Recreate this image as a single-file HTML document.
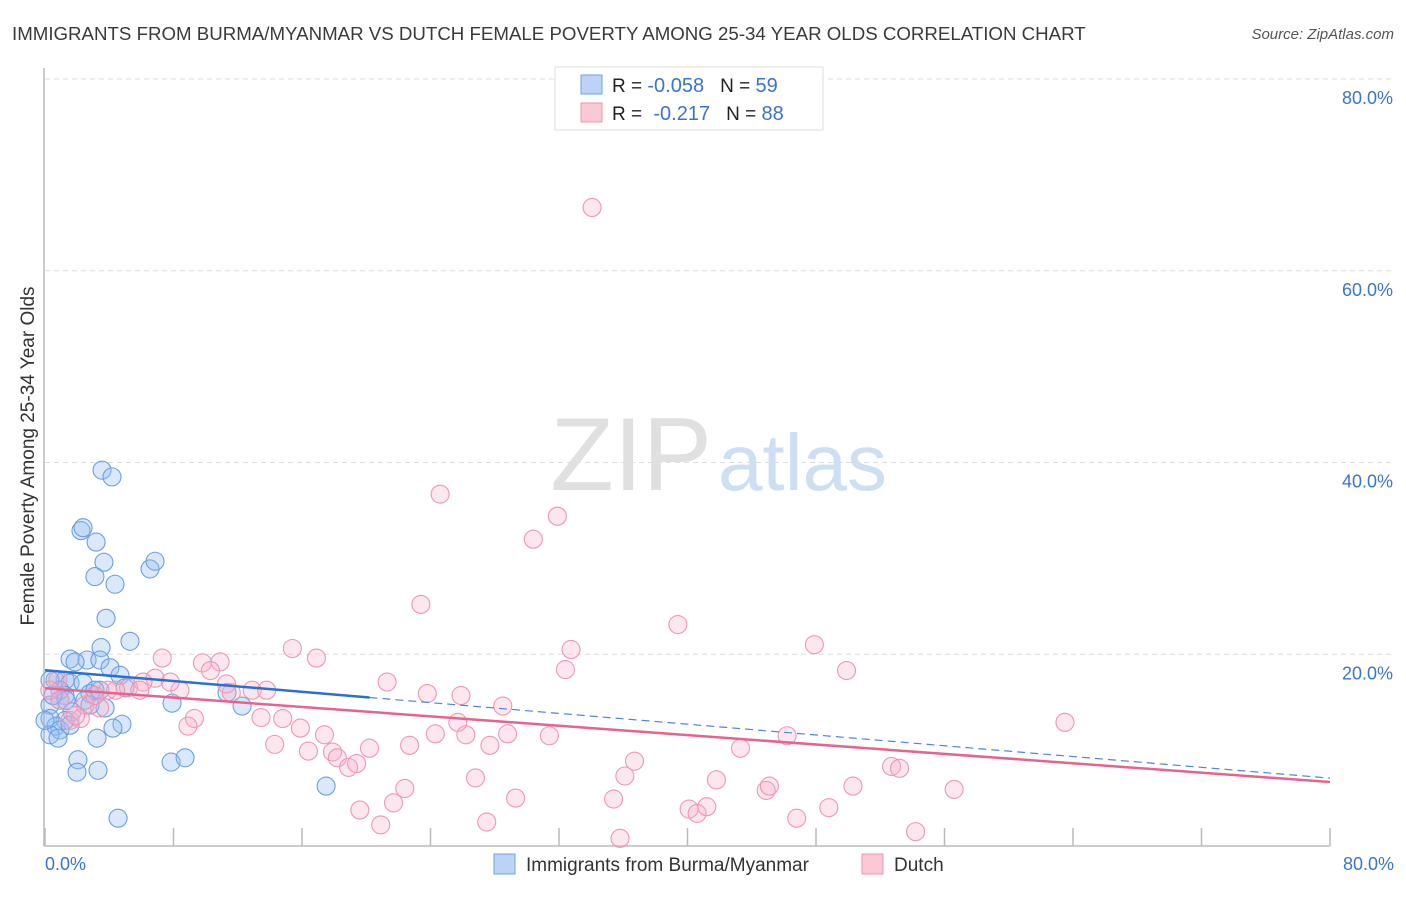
<!DOCTYPE html>
<html><head><meta charset="utf-8"><style>
body{margin:0;background:#fff;font-family:"Liberation Sans",sans-serif}
svg text{font-family:"Liberation Sans",sans-serif}
</style></head><body>
<svg id="chart" width="1406" height="892" viewBox="0 0 1406 892" xmlns="http://www.w3.org/2000/svg">
<text x="12" y="40" font-size="18.7" fill="#3a3a3a">IMMIGRANTS FROM BURMA/MYANMAR VS DUTCH FEMALE POVERTY AMONG 25-34 YEAR OLDS CORRELATION CHART</text>
<text x="1394" y="39" font-size="15" font-style="italic" fill="#555" text-anchor="end">Source: ZipAtlas.com</text>
<g id="grid"></g>
<g>
<text x="712" y="490" font-size="104" font-family="Liberation Serif" fill="#e0e0e0" text-anchor="end">ZIP</text>
<text x="718" y="490" font-size="80" fill="#cfdff3">atlas</text>
</g>
<line x1="44" y1="68" x2="44" y2="846" stroke="#bbb" stroke-width="1.5"/>
<line x1="44" y1="846" x2="1330" y2="846" stroke="#bbb" stroke-width="1.5"/>
<g id="xticks"></g>
<g id="yticklabels"></g>
<text x="45" y="870" font-size="18" fill="#3a74d0">0.0%</text>
<text x="1394" y="870" font-size="18" fill="#3a74d0" text-anchor="end">80.0%</text>
<text transform="translate(34,456) rotate(-90)" font-size="19" fill="#333" text-anchor="middle">Female Poverty Among 25-34 Year Olds</text>
<g id="pts-blue"></g>
<g id="pts-pink"></g>
<g id="trends"></g>
<g>
<rect x="555" y="67" width="268" height="63" fill="#fff" stroke="#ddd"/>
<rect x="581" y="75" width="21" height="19" fill="#bcd3f5" stroke="#6ea0e4"/>
<rect x="581" y="103" width="21" height="19" fill="#fbc8d6" stroke="#ee94b0"/>
<text x="612" y="92" font-size="19" fill="#222">R = <tspan fill="#3a74d0" font-size="20">-0.058</tspan><tspan dx="16">N = </tspan><tspan fill="#3a74d0" font-size="20">59</tspan></text>
<text x="612" y="120" font-size="19" fill="#222">R = <tspan dx="6" fill="#3a74d0" font-size="20">-0.217</tspan><tspan dx="16">N = </tspan><tspan fill="#3a74d0" font-size="20">88</tspan></text>
</g>
<g>
<rect x="494" y="854" width="21" height="20" fill="#bcd3f5" stroke="#6ea0e4"/>
<text x="526" y="871" font-size="19" fill="#333">Immigrants from Burma/Myanmar</text>
<rect x="862" y="854" width="21" height="20" fill="#fbc8d6" stroke="#ee94b0"/>
<text x="894" y="871" font-size="19" fill="#333">Dutch</text>
</g>
</svg>
<script>
const yTicks=[20,40,60,80];
const yTickLabels=["20.0%","40.0%","60.0%","80.0%"];
const xTickVals=[0,8,16,24,32,40,48,56,64,72,80];
const blueX=[3.55,4.17,2.24,2.37,3.18,3.11,3.67,4.36,6.54,6.85,3.8,5.29,3.49,1.56,2.62,3.42,1.87,4.05,0.62,1.25,1.56,2.37,0.93,2.8,4.67,4.98,0.31,1.25,1.68,3.74,1.25,0.31,0.68,0.93,1.56,4.79,4.23,3.24,2.05,1.99,3.3,7.85,8.72,7.91,11.33,12.27,17.5,4.55,0.31,0.81,1.31,2.49,2.8,3.42,3.11,0.93,0.31,0.5,0.0];
const blueY=[39.2,38.5,32.9,33.2,31.7,28.1,29.6,27.3,28.9,29.7,23.75,21.35,20.7,19.5,19.4,19.4,19.2,18.6,17.3,17.3,17.0,17.0,16.25,15.9,17.8,16.5,14.7,15.7,14.0,14.4,13.1,13.3,12.5,12.1,12.6,12.7,12.3,11.25,9.0,7.7,7.9,8.75,9.2,14.9,16.0,14.6,6.25,2.9,11.6,11.25,15.2,15.2,14.7,16.25,16.25,15.2,17.3,15.7,13.1];
const pinkX=[34.06,24.6,31.9,30.4,23.4,39.4,32.75,47.9,32.4,49.9,15.4,16.9,7.3,9.8,10.9,10.3,12.9,13.8,11.6,11.3,8.4,7.8,6.85,6.1,5.2,3.9,4.4,5.9,21.3,23.8,28.5,25.9,25.7,26.2,24.3,22.7,20.2,17.9,16.4,18.2,18.9,19.4,27.7,28.8,31.4,14.3,13.45,14.8,15.9,17.4,9.3,8.9,43.3,46.2,63.5,26.8,22.4,21.7,19.6,20.9,29.3,27.5,35.4,36.1,36.7,41.8,40.1,40.6,41.2,44.9,45.1,46.8,48.8,50.3,52.7,53.2,56.6,54.2,35.8,0.8,0.3,1.56,2.2,3.4,2.5,0.93,1.9,3.1];
const pinkY=[66.6,36.7,34.4,32.0,25.2,23.1,20.5,21.0,18.4,18.3,20.6,19.6,19.6,19.1,19.2,18.3,16.25,16.25,16.0,16.9,16.25,17.1,17.5,17.1,16.5,16.25,16.25,16.25,17.1,15.9,14.6,15.7,12.9,11.6,11.7,10.5,10.2,9.8,9.9,9.2,8.2,8.6,10.5,11.7,11.5,10.6,13.4,13.3,12.3,11.6,13.3,12.5,10.2,11.5,12.9,7.1,6.0,4.5,3.75,2.2,5.0,2.5,4.9,7.3,8.85,6.9,3.85,3.4,4.1,5.8,6.25,2.9,4.0,6.25,8.3,8.1,5.9,1.5,0.8,17.3,16.25,13.1,13.3,14.4,14.7,15.2,13.6,15.7];
const blueTrend=[18.33,7.08]; const blueSolidEnd=20.2;
const pinkTrend=[16.46,6.67];
const NS="http://www.w3.org/2000/svg";
const sx=v=>45+v*(1330-45)/80, sy=v=>846-v*(846-79)/80;
function mk(t,a,p){const e=document.createElementNS(NS,t);for(const k in a)e.setAttribute(k,a[k]);p.appendChild(e);return e;}
const grid=document.getElementById('grid'),ytl=document.getElementById('yticklabels');
yTicks.forEach((v,i)=>{const l=mk('line',{x1:45,x2:1394,y1:sy(v),y2:sy(v),stroke:'#ddd','stroke-dasharray':'5,4'},grid);


const t=mk('text',{x:1393,y:sy(v)+25,'font-size':18,fill:'#3a74d0','text-anchor':'end'},ytl);t.textContent=yTickLabels[i];

});
const xt=document.getElementById('xticks');
xTickVals.forEach(v=>{const l=mk('line',{x1:sx(v),x2:sx(v),y1:828,y2:846,stroke:'#bbb','stroke-width':1.5},xt);

});
function pts(X,Y,g,fill,stroke){X.forEach((x,i)=>{const c=mk('circle',{cx:sx(x),cy:sy(Y[i]),r:9,fill:fill,stroke:stroke,'stroke-width':1.1},g);

});}
pts(blueX,blueY,document.getElementById('pts-blue'),'rgba(150,190,240,0.35)','#6aa0e2');
pts(pinkX,pinkY,document.getElementById('pts-pink'),'rgba(248,175,198,0.3)','#f096b2');
const tr=document.getElementById('trends');
const by=x=>blueTrend[0]+(blueTrend[1]-blueTrend[0])*x/80;
let l1=mk('line',{x1:sx(0),y1:sy(by(0)),x2:sx(blueSolidEnd),y2:sy(by(blueSolidEnd)),stroke:'#2a6fd6','stroke-width':2.5},tr);


let l2=mk('line',{x1:sx(blueSolidEnd),y1:sy(by(blueSolidEnd)),x2:sx(80),y2:sy(by(80)),stroke:'#4a86de','stroke-width':1.2,'stroke-dasharray':'8,5'},tr);


let l3=mk('line',{x1:sx(0),y1:sy(pinkTrend[0]),x2:sx(80),y2:sy(pinkTrend[1]),stroke:'#e8628e','stroke-width':2.5},tr);


</script>
</body></html>
